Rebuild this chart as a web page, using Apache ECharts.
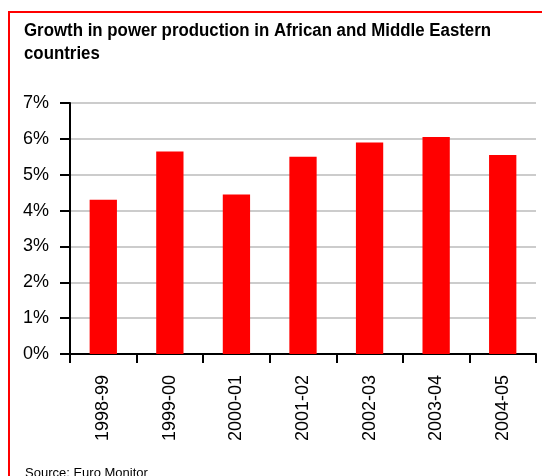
<!DOCTYPE html>
<html>
<head>
<meta charset="utf-8">
<script src="https://cdn.jsdelivr.net/npm/echarts@6/dist/echarts.min.js"></script>
<style>
  html, body { margin: 0; padding: 0; background: #fff; }
  #chart { width: 542px; height: 476px; }
</style>
</head>
<body>
<div id="chart"></div>
<script>
// Fiscal-year periods and annual growth of power production (%)
const periods = ['1998-99', '1999-00', '2000-01', '2001-02', '2002-03', '2003-04', '2004-05'];
const growthPct = [4.3, 5.65, 4.45, 5.5, 5.9, 6.05, 5.55];
const yTicks = [0, 1, 2, 3, 4, 5, 6, 7];

const titleLines = ['Growth in power production in African and Middle Eastern', 'countries'];
const sourceText = 'Source: Euro Monitor';

const chart = echarts.init(document.getElementById('chart'), null, { renderer: 'canvas' });

// Condensed bold heading, one text element per line
const titleFont = 'bold 18px "Liberation Sans", Arial, sans-serif';
const titleGraphics = titleLines.map((line, i) => ({
  type: 'text',
  x: 24,
  y: 31.5 + i * 23,
  scaleX: 0.936,
  style: {
    text: line,
    font: titleFont,
    fill: '#000',
    verticalAlign: 'middle',
    align: 'left'
  }
}));

chart.setOption({
  animation: false,
  backgroundColor: '#ffffff',
  graphic: [
    {
      type: 'polyline',
      shape: { points: [[9, 476], [9, 12], [542, 12]] },
      style: { stroke: '#ff0000', lineWidth: 2, fill: null }
    },
    ...titleGraphics,
    {
      type: 'text',
      left: 25,
      top: 467,
      style: {
        text: sourceText,
        font: '13px "Liberation Sans", Arial, sans-serif',
        fill: '#000'
      }
    }
  ],
  grid: { left: 70, right: 6, top: 103, bottom: 122, containLabel: false },
  xAxis: {
    type: 'category',
    data: periods,
    axisLine: { lineStyle: { color: '#000', width: 2 } },
    axisTick: { show: true, length: 9, lineStyle: { color: '#000', width: 2 } },
    axisLabel: {
      rotate: 90,
      margin: 21,
      fontSize: 18,
      fontFamily: '"Liberation Sans", Arial, sans-serif',
      color: '#000'
    }
  },
  yAxis: {
    type: 'value',
    min: yTicks[0],
    max: yTicks[yTicks.length - 1],
    interval: 1,
    axisLine: { show: true, lineStyle: { color: '#000', width: 2 } },
    axisTick: { show: true, length: 10, lineStyle: { color: '#000', width: 2 } },
    axisLabel: {
      margin: 21,
      fontSize: 18,
      fontFamily: '"Liberation Sans", Arial, sans-serif',
      color: '#000',
      formatter: v => v + '%'
    },
    splitLine: { show: true, lineStyle: { color: '#cccccc', width: 2 } }
  },
  series: [{
    type: 'bar',
    data: growthPct,
    barWidth: '41%',
    itemStyle: { color: '#ff0000' }
  }]
});
</script>
</body>
</html>
